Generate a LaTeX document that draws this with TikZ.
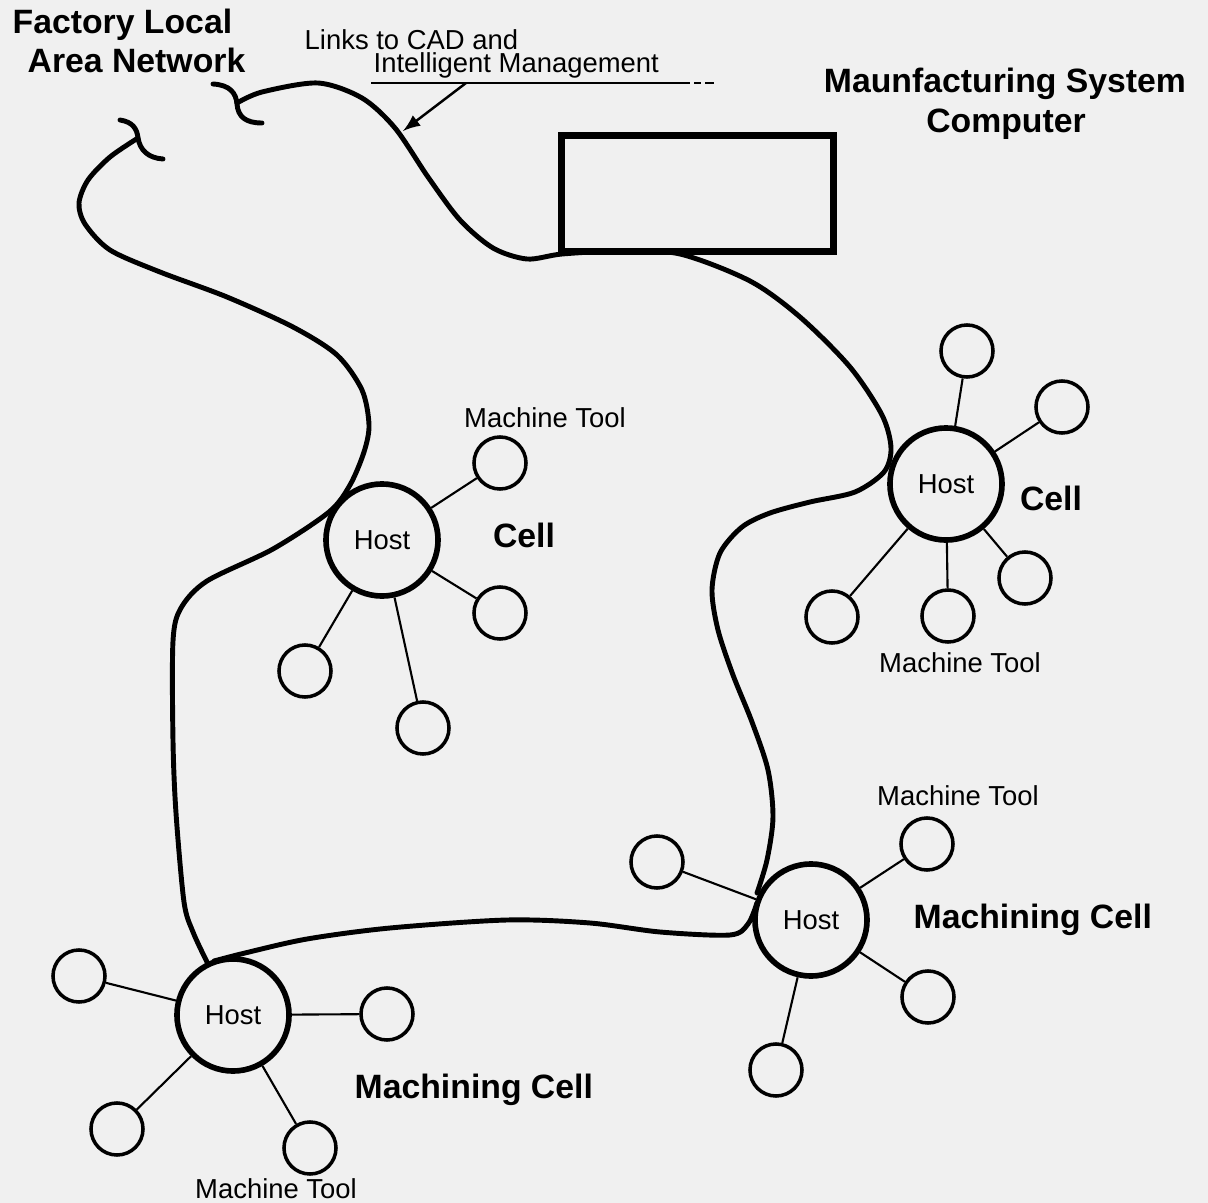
\documentclass[tikz,border=0pt]{standalone}
\usepackage{fontspec}
\setmainfont{Liberation Sans}
\usepackage{xcolor}
\usepackage{tikz}
\usetikzlibrary{arrows}
\definecolor{paper}{RGB}{240,240,240}
\tikzset{
    host/.style = {circle, draw, line width = 1.6pt, fill = paper, minimum size = 1.12cm,
        inner sep = 0pt, font = \fontsize{7.8}{9}\selectfont},
    tool/.style = {circle, draw, line width = 1pt, fill = paper, minimum size = 0.52cm, inner sep = 0pt},
    spoke/.style = {line width = 0.6pt},
    lan/.style = {line width = 1.4pt, line cap = round, line join = round},
    txt/.style = {inner sep = 0pt, anchor = base, font = \fontsize{7.8}{9}\selectfont},
    bigtxt/.style = {inner sep = 0pt, anchor = base, font = \bfseries\fontsize{9.6}{11}\selectfont}
}

\begin{document}
\begin{tikzpicture}[x = 0.01cm, y = -0.01cm]
        \fill[paper] (0, 0) rectangle (1208, 1203);

        % the network cable, with its two broken ends
        \draw[lan] (213, 84) .. controls (230, 85) and (236, 93) .. (237, 104)
            .. controls (238, 117) and (246, 123) .. (262, 123);
        \draw[lan] (120, 120) .. controls (133, 122) and (137, 129) .. (138, 138)
            .. controls (140, 150) and (148, 158) .. (163, 159);
        \draw[lan] plot[smooth, tension = 0.5] coordinates {(237, 103) (262, 92) (318, 83)
            (362, 98) (395, 128) (428, 177) (460, 220) (493, 248) (527, 259) (562, 254)
            (620, 251) (680, 254) (750, 281) (800, 317) (850, 367) (882, 415) (891, 448)
            (884, 472) (855, 492) (810, 502) (770, 513) (742, 527) (720, 553) (712, 590)
            (718, 630) (733, 675) (752, 722) (768, 770) (773, 817) (767, 860) (757, 893)};
        \draw[lan] plot[smooth, tension = 0.5] coordinates {(757, 903) (748, 924) (730, 935)
            (660, 932) (590, 923) (507, 920) (390, 928) (307, 939) (245, 953) (214, 961)};
        \draw[lan] plot[smooth, tension = 0.5] coordinates {(207, 962) (193, 932) (184, 902)
            (176, 813) (173, 741) (173, 641) (181, 608) (207, 581) (273, 549) (329, 512)
            (350, 485) (364, 452) (369, 425) (362, 390) (337, 355) (293, 327) (227, 297)
            (160, 272) (110, 250) (85, 224) (79, 203) (88, 180) (110, 157) (138, 138)};

        \node[draw, line width = 2pt, minimum width = 2.72cm, minimum height = 1.16cm,
            inner sep = 0pt] (msc) at (697.5, 193.5) {};

        \node[bigtxt, anchor = base west] (fll) at (12, 33) {Factory Local};
        \node[bigtxt, anchor = base west] (fla) at (27, 72) {Area Network};
        \node[txt, anchor = base west] (cad) at (304, 50) {Links to CAD and};
        \node[txt, anchor = base west] (mgmt) at (373, 73) {Intelligent Management};
        \node[bigtxt] (mscs) at (1005, 93) {Maunfacturing System};
        \node[bigtxt] (mscc) at (1006, 132) {Computer};

        \draw[line width = 0.7pt] (371, 83) -- (690, 83);
        \draw[line width = 0.7pt] (694, 83) -- (701, 83);
        \draw[line width = 0.7pt] (705, 83) -- (714, 83);
        \coordinate (tail) at (466, 83);
        \coordinate (tip) at (403, 131);
        \draw[line width = 0.7pt, -latex] (tail) -- (tip);

        % cell
        \node[host] (h1) at (382, 540) {Host};
        \node[tool] (h1a) at (500, 463) {};
        \node[tool] (h1b) at (500, 613) {};
        \node[tool] (h1c) at (305, 671) {};
        \node[tool] (h1d) at (423, 728) {};
        \draw[spoke] (h1) -- (h1a);
        \draw[spoke] (h1) -- (h1b);
        \draw[spoke] (h1) -- (h1c);
        \draw[spoke] (h1) -- (h1d);
        \node[txt] (t1) at (545, 427) {Machine Tool};
        \node[bigtxt] (c1) at (524, 547) {Cell};

        % cell on the right
        \node[host] (h2) at (946, 484) {Host};
        \node[tool] (h2a) at (967, 351) {};
        \node[tool] (h2b) at (1062, 407) {};
        \node[tool] (h2c) at (1025, 578) {};
        \node[tool] (h2d) at (948, 616) {};
        \node[tool] (h2e) at (832, 617) {};
        \draw[spoke] (h2) -- (h2a);
        \draw[spoke] (h2) -- (h2b);
        \draw[spoke] (h2) -- (h2c);
        \draw[spoke] (h2) -- (h2d);
        \draw[spoke] (h2) -- (h2e);
        \node[txt] (t2) at (960, 672) {Machine Tool};
        \node[bigtxt] (c2) at (1051, 510) {Cell};

        % machining cells
        \node[host] (h3) at (811, 920) {Host};
        \node[tool] (h3a) at (657, 862) {};
        \node[tool] (h3b) at (927, 844) {};
        \node[tool] (h3c) at (928, 997) {};
        \node[tool] (h3d) at (776, 1070) {};
        \draw[spoke] (h3) -- (h3a);
        \draw[spoke] (h3) -- (h3b);
        \draw[spoke] (h3) -- (h3c);
        \draw[spoke] (h3) -- (h3d);
        \node[txt] (t3) at (958, 805) {Machine Tool};
        \node[bigtxt, anchor = base west] (c3) at (913, 928) {Machining Cell};

        \node[host] (h4) at (233, 1015) {Host};
        \node[tool] (h4a) at (79, 976) {};
        \node[tool] (h4b) at (387, 1014) {};
        \node[tool] (h4c) at (117, 1129) {};
        \node[tool] (h4d) at (310, 1148) {};
        \draw[spoke] (h4) -- (h4a);
        \draw[spoke] (h4) -- (h4b);
        \draw[spoke] (h4) -- (h4c);
        \draw[spoke] (h4) -- (h4d);
        \node[txt] (t4) at (276, 1198) {Machine Tool};
        \node[bigtxt, anchor = base west] (c4) at (354, 1098) {Machining Cell};
\end{tikzpicture}
\end{document}
